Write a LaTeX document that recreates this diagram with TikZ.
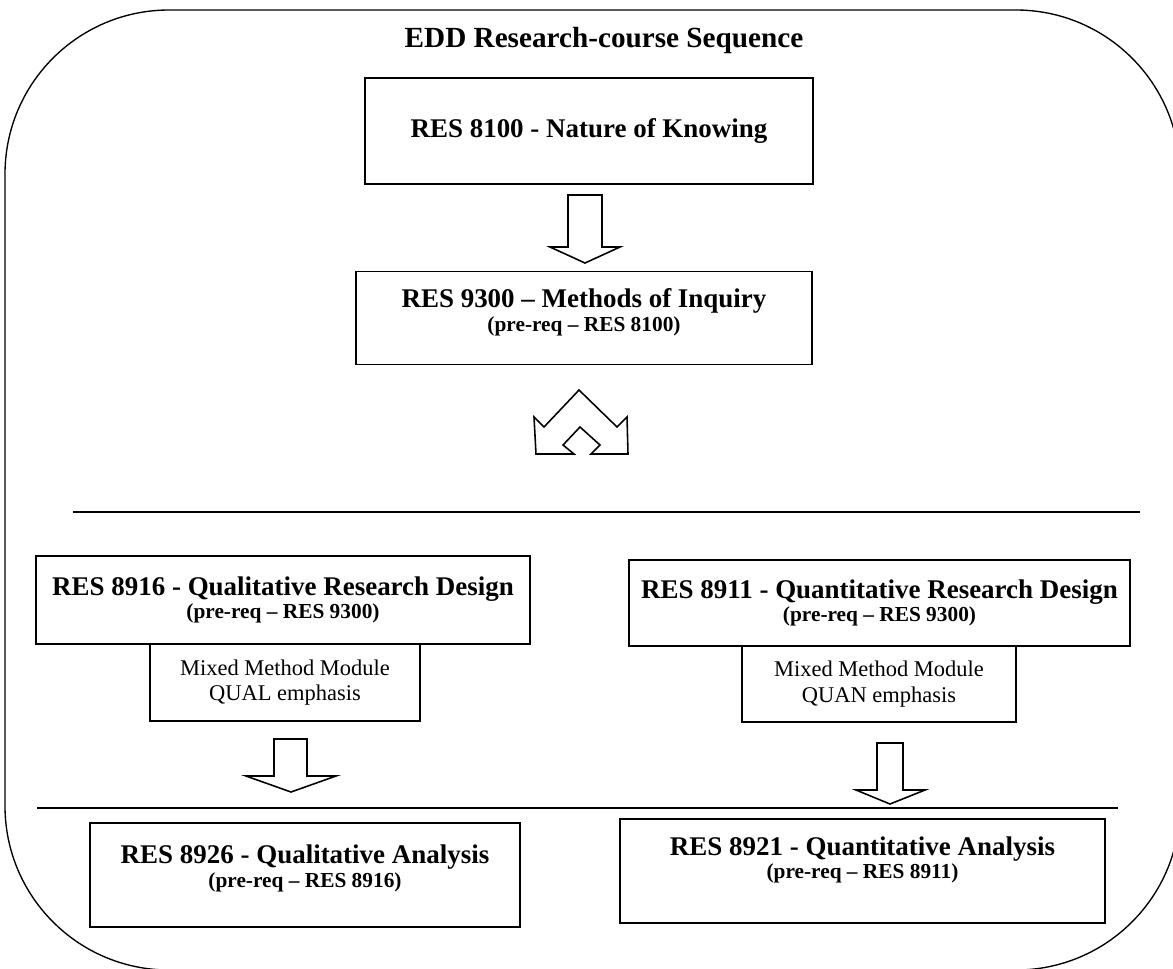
\documentclass[tikz,border=0pt]{standalone}
\usepackage{fontspec}
\setmainfont{Liberation Serif}

\begin{document}
\begin{tikzpicture}[x=0.445pt, y=-0.445pt,
  box/.style 2 args={draw, line width=0.7pt, minimum width=#1*0.445pt,
    minimum height=#2*0.445pt, inner sep=0pt, align=center},
  course/.style={font=\fontsize{12}{14}\selectfont\bfseries},
  mixed/.style={font=\fontsize{10}{11.5}\selectfont},
  blockarrow/.style={draw, line width=0.7pt, line join=miter, fill=white}]

\useasboundingbox (0,0) rectangle (1173,968);
\clip (0,0) rectangle (1173,968);

% Frame
\draw[line width=0.6pt, rounded corners=73pt] (5,10) rectangle (1180,970);

% Title
\node[font=\fontsize{13}{15}\selectfont\bfseries] (title) at (604,40) {EDD Research-course Sequence};

% Core courses
\node[box={448}{106}, course] (know) at (589,131) {RES 8100 - Nature of Knowing};
\node[box={456}{93}, course] (inquiry) at (584,318)
  {RES 9300 -- Methods of Inquiry\\[-3.5pt]{\fontsize{9.5}{11}\selectfont (pre-req -- RES 8100)\rule[-7pt]{0pt}{1pt}}};

% Down arrow
\draw[blockarrow] (568,195) -- (602,195) -- (602,247) -- (620,247) -- (585,263)
  -- (550,247) -- (568,247) -- cycle;

% Split arrow
\draw[blockarrow] (579,390) -- (617,427) -- (627,417) -- (628,454) -- (591,454)
  -- (600,445) -- (580,427) -- (563,445) -- (574,454) -- (536,454)
  -- (534,417) -- (544,427) -- cycle;

% Rules
\draw[line width=0.7pt] (73,512) -- (1140,512);
\draw[line width=0.7pt] (37,808) -- (1118,808);

% Design courses
\node[box={494}{88}, course] (qual) at (283,600)
  {RES 8916 - Qualitative Research Design\\[-3.5pt]{\fontsize{9.5}{11}\selectfont (pre-req -- RES 9300)}};
\node[box={270}{77}, mixed] (qualmix) at (285,682.5) {Mixed Method Module\\QUAL emphasis};
\node[box={501}{86}, course] (quan) at (879.5,603)
  {RES 8911 - Quantitative Research Design\\[-3.5pt]{\fontsize{9.5}{11}\selectfont (pre-req -- RES 9300)}};
\node[box={274}{76}, mixed] (quanmix) at (879,684) {Mixed Method Module\\QUAN emphasis};

% Down arrows
\draw[blockarrow] (274,739) -- (307,739) -- (307,776) -- (336,776) -- (291,792)
  -- (246,776) -- (274,776) -- cycle;
\draw[blockarrow] (877,743) -- (903,743) -- (903,790) -- (925,790) -- (890,804)
  -- (856,790) -- (877,790) -- cycle;

% Analysis courses
\node[box={430}{104}, course] (qualan) at (305,875)
  {RES 8926 - Qualitative Analysis\\[-3.5pt]{\fontsize{9.5}{11}\selectfont (pre-req -- RES 8916)\rule[-8pt]{0pt}{1pt}}};
\node[box={485}{104}, course] (quanan) at (862.5,871)
  {RES 8921 - Quantitative Analysis\\[-3.5pt]{\fontsize{9.5}{11}\selectfont (pre-req -- RES 8911)\rule[-12pt]{0pt}{1pt}}};

\end{tikzpicture}
\end{document}
